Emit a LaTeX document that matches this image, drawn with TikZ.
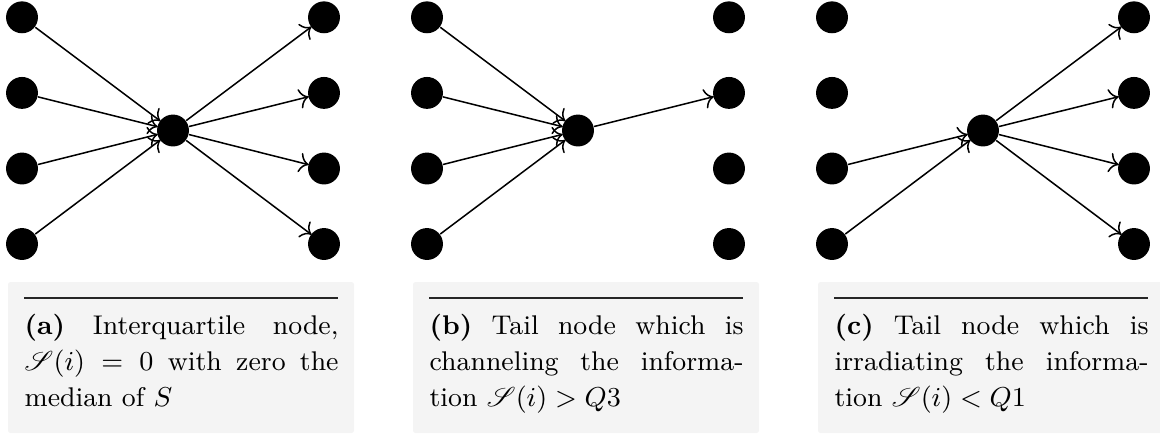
\documentclass[tikz,border=0pt]{standalone}
\usepackage{mathrsfs}
\usetikzlibrary{arrows.meta}
\hyphenation{irradiating}
\definecolor{boxgray}{RGB}{244,244,244}
\tikzset{
  dot/.style={circle,fill=black,inner sep=0pt,minimum size=10.5pt},
  link/.style={-{Computer Modern Rightarrow[scale=1.15]},line width=0.5pt,shorten >=-0.3pt},
  captext/.style={anchor=base west,inner sep=0pt,text width=103.3pt,align=justify,
    font=\fontsize{8.9}{12}\selectfont}
}
\begin{document}
\begin{tikzpicture}[x=0.329pt,y=-0.329pt]
\useasboundingbox (0,0) rectangle (1160,436);
\foreach \p/\dx in {a/0,b/405,c/810}{
  \fill[boxgray,rounded corners=0.8pt] (8+\dx,282) rectangle (354+\dx,433);
  \draw[black!85,line width=0.4pt] (24+\dx,298) -- (338+\dx,298);
  \node[dot] (\p-c) at (173+\dx,130.5) {};
  \foreach \i/\y in {1/17.3,2/92.9,3/168.5,4/244}{
    \node[dot] (\p-l\i) at (22+\dx,\y) {};
    \node[dot] (\p-r\i) at (324+\dx,\y) {};
  }
}
% panel a
\foreach \i in {1,2,3,4}{
  \draw[link] (a-l\i) -- (a-c);
  \draw[link] (a-c) -- (a-r\i);
}
% panel b
\foreach \i in {1,2,3,4}{
  \draw[link] (b-l\i) -- (b-c);
}
\draw[link] (b-c) -- (b-r2);
% panel c
\foreach \i in {3,4}{
  \draw[link] (c-l\i) -- (c-c);
}
\foreach \i in {1,2,3,4}{
  \draw[link] (c-c) -- (c-r\i);
}
\node[captext] (capa) at (24,334) {\textbf{(a)} Interquartile node, $\mathscr{S}(i)=0$ with zero the median of $S$};
\node[captext] (capb) at (429,334) {\textbf{(b)} Tail node which is channeling the information $\mathscr{S}(i)>Q3$};
\node[captext] (capc) at (834,334) {\textbf{(c)} Tail node which is irradiating the information $\mathscr{S}(i)<Q1$};
\end{tikzpicture}
\end{document}
